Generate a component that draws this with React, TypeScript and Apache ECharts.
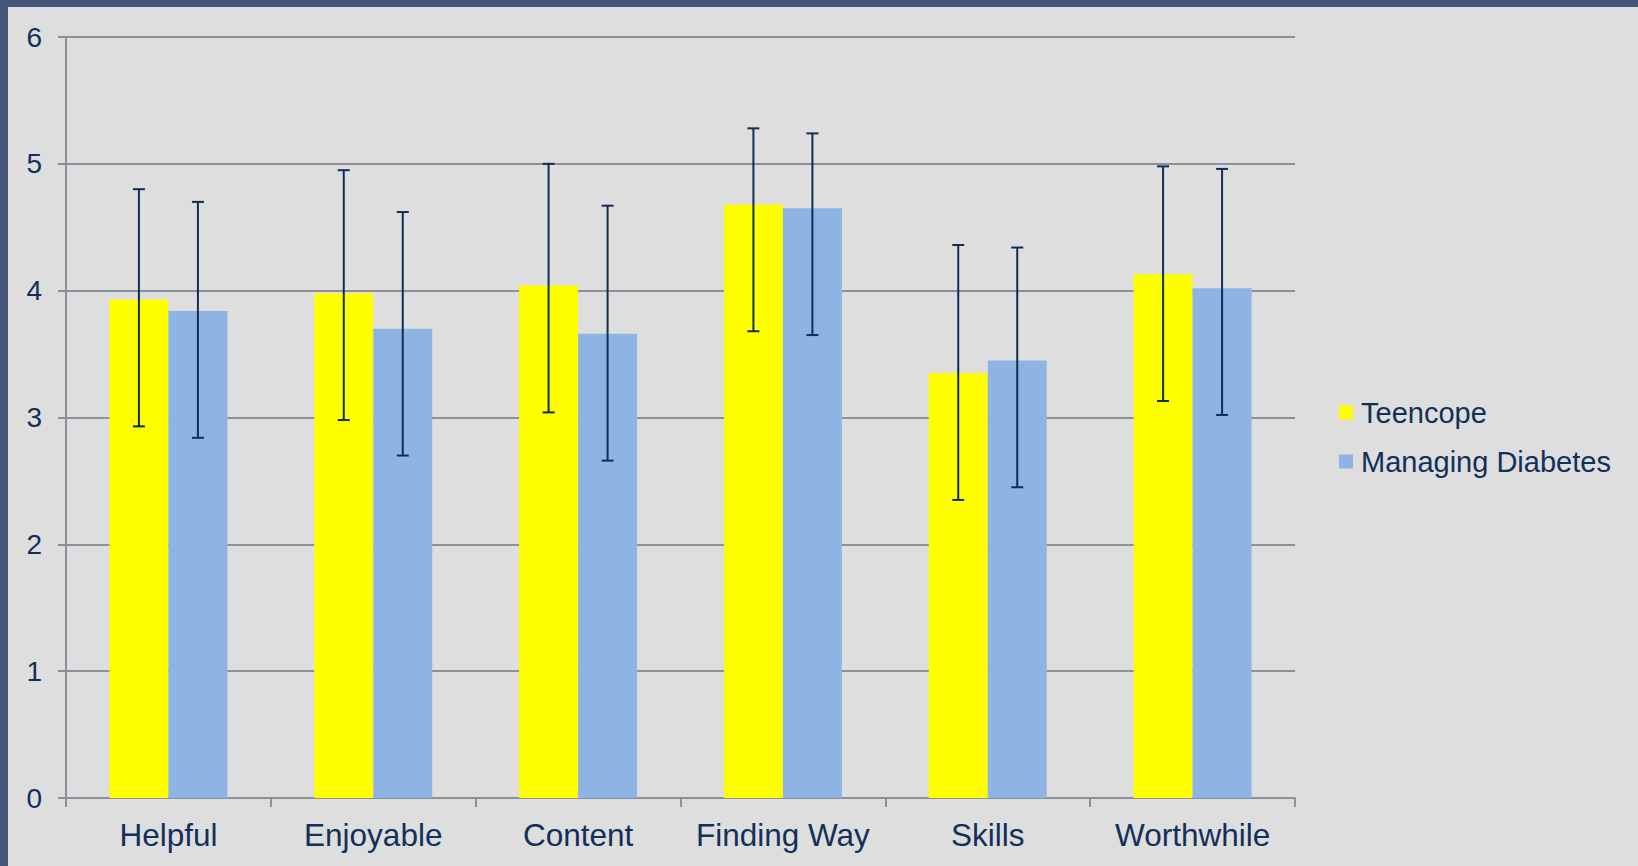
import React, { useEffect, useRef } from "react";
import * as echarts from "echarts";

const categories = ["Helpful", "Enjoyable", "Content", "Finding Way", "Skills", "Worthwhile"];
const seriesNames = ["Teencope", "Managing Diabetes"];
const teencopeMeans = [3.93, 3.98, 4.04, 4.68, 3.35, 4.13];
const teencopeUpper = [4.80, 4.95, 5.00, 5.28, 4.36, 4.98];
const teencopeLower = [2.93, 2.98, 3.04, 3.68, 2.35, 3.13];
const diabetesMeans = [3.84, 3.70, 3.66, 4.65, 3.45, 4.02];
const diabetesUpper = [4.70, 4.62, 4.67, 5.24, 4.34, 4.96];
const diabetesLower = [2.84, 2.70, 2.66, 3.65, 2.45, 3.02];
const yTicks = [0, 1, 2, 3, 4, 5, 6];

const BAR_W = 59;
const TEXT = "#12305a";
const AXIS = "#8c909a";
const ERR = "#0f2d55";
const FONT = "'Liberation Sans', Arial, sans-serif";

function errorSeries(name: string, lower: number[], upper: number[], offset: number) {
  return {
    type: "custom",
    name: name + " error",
    z: 10,
    data: categories.map((_, i) => [i, lower[i], upper[i]]),
    encode: { x: 0, y: [1, 2] },
    renderItem: (params: any, api: any) => {
      const idx = api.value(0);
      const lo = api.coord([idx, api.value(1)]);
      const hi = api.coord([idx, api.value(2)]);
      const cx = lo[0] + offset;
      const style = { stroke: ERR, lineWidth: 2 };
      return {
        type: "group",
        children: [
          { type: "line", shape: { x1: cx, y1: hi[1], x2: cx, y2: lo[1] }, style },
          { type: "line", shape: { x1: cx - 6, y1: hi[1], x2: cx + 6, y2: hi[1] }, style },
          { type: "line", shape: { x1: cx - 6, y1: lo[1], x2: cx + 6, y2: lo[1] }, style },
        ],
      };
    },
  };
}

export default function App() {
  const ref = useRef<HTMLDivElement>(null);
  useEffect(() => {
    if (!ref.current) return;
    const chart = echarts.init(ref.current, undefined, { renderer: "svg" });
    chart.setOption({
      animation: false,
      backgroundColor: "#dedede",
      textStyle: { fontFamily: FONT },
      graphic: [
        { type: "rect", shape: { x: 0, y: 0, width: 1638, height: 7 }, style: { fill: "#46567a" }, silent: true },
        { type: "rect", shape: { x: 0, y: 0, width: 8, height: 866 }, style: { fill: "#46567a" }, silent: true },
      ],
      grid: { left: 66, right: 343, top: 37, bottom: 68, containLabel: false },
      legend: {
        orient: "vertical",
        left: 1339,
        top: 398,
        padding: 0,
        data: seriesNames,
        icon: "rect",
        itemWidth: 14,
        itemHeight: 14,
        itemGap: 20,
        textStyle: { color: TEXT, fontSize: 29, fontFamily: FONT, lineHeight: 29, padding: [0, 0, 0, 3] },
      },
      xAxis: {
        type: "category",
        data: categories,
        axisLine: { show: true, lineStyle: { color: AXIS, width: 2 } },
        axisTick: { show: true, length: 9, lineStyle: { color: AXIS, width: 2 } },
        axisLabel: { color: TEXT, fontSize: 31.5, fontFamily: FONT, margin: 21, interval: 0 },
        splitLine: { show: false },
      },
      yAxis: {
        type: "value",
        min: yTicks[0],
        max: yTicks[yTicks.length - 1],
        interval: 1,
        axisLine: { show: true, lineStyle: { color: AXIS, width: 2 } },
        axisTick: { show: true, length: 8, lineStyle: { color: AXIS, width: 2 } },
        axisLabel: { color: TEXT, fontSize: 28, fontFamily: FONT, margin: 24 },
        splitLine: { show: true, lineStyle: { color: AXIS, width: 2 } },
      },
      series: [
        {
          type: "bar",
          name: seriesNames[0],
          data: teencopeMeans,
          barWidth: BAR_W,
          barGap: "0%",
          itemStyle: { color: "#ffff00" },
        },
        {
          type: "bar",
          name: seriesNames[1],
          data: diabetesMeans,
          barWidth: BAR_W,
          barGap: "0%",
          itemStyle: { color: "#8eb4e3" },
        },
        errorSeries(seriesNames[0], teencopeLower, teencopeUpper, -BAR_W / 2),
        errorSeries(seriesNames[1], diabetesLower, diabetesUpper, BAR_W / 2),
      ],
    });
    return () => chart.dispose();
  }, []);
  return (
    <div style={{ position: "fixed", left: 0, top: 0, width: 1638, height: 866 }}>
      <div ref={ref} style={{ width: 1638, height: 866 }} />
    </div>
  );
}
